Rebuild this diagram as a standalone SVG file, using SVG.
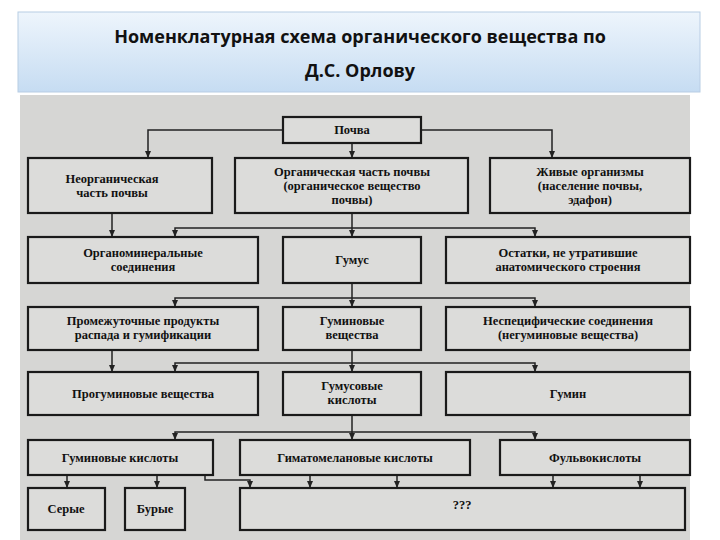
<svg xmlns="http://www.w3.org/2000/svg" width="720" height="540" viewBox="0 0 720 540">
<defs>
<linearGradient id="hg" x1="0" y1="0" x2="0" y2="1"><stop offset="0" stop-color="#eef5fc"/><stop offset="1" stop-color="#c6dcf2"/></linearGradient>
<marker id="ar" markerWidth="8" markerHeight="8" refX="7" refY="4" orient="auto" markerUnits="userSpaceOnUse"><path d="M0,1 L7,4 L0,7 Z" fill="#222"/></marker>
</defs>
<style>
.b{fill:#dcdcda;stroke:#1a1a1a;stroke-width:2.2}
.t{font-family:'Liberation Serif','DejaVu Serif',serif;font-size:12.5px;font-weight:bold;fill:#111;text-anchor:middle}
.c{fill:none;stroke:#222;stroke-width:1.5}
.a{marker-end:url(#ar)}
.h{font-family:'Open Sans','Liberation Sans',sans-serif;font-size:18px;font-weight:bold;fill:#111;text-anchor:middle}
</style>
<rect width="720" height="540" fill="#fff"/>
<rect x="18" y="12" width="682" height="80" fill="url(#hg)" stroke="#b8cde4"/>
<text class="h" x="360" y="43">Номенклатурная схема органического вещества по</text>
<text class="h" x="360" y="77">Д.С. Орлову</text>
<rect x="20" y="95" width="670" height="445" fill="#d6d6d4"/>
<g id="connectors">
<path class="c a" d="M283,130 H148 V158"/>
<path class="c a" d="M421,130 H552 V158"/>
<path class="c a" d="M352,143 V158"/>
<path class="c a" d="M112,213 V237"/>
<path class="c a" d="M352,213 V237"/>
<path class="c a" d="M352,228 H175 V237"/>
<path class="c a" d="M352,228 H535 V237"/>
<path class="c a" d="M352,283 V307"/>
<path class="c a" d="M352,298 H175 V307"/>
<path class="c a" d="M352,298 H535 V307"/>
<path class="c a" d="M112,350 V372"/>
<path class="c a" d="M352,350 V372"/>
<path class="c a" d="M352,363 H175 V372"/>
<path class="c a" d="M352,363 H535 V372"/>
<path class="c a" d="M352,415 V440"/>
<path class="c a" d="M352,432 H175 V440"/>
<path class="c a" d="M352,432 H535 V440"/>
<path class="c a" d="M67,475 V488"/>
<path class="c a" d="M157,475 V488"/>
<path class="c a" d="M205,475 V480 H250 V488"/>
<path class="c a" d="M310,475 V488"/>
<path class="c a" d="M397,475 V488"/>
<path class="c a" d="M553,475 V488"/>
<path class="c a" d="M640,475 V488"/>
</g>
<g id="n1"><rect class="b" x="283" y="117" width="138" height="26"/><text class="t" x="352" y="134">Почва</text></g>
<g id="n2"><rect class="b" x="28" y="158" width="184" height="55"/><text class="t" x="112" y="183">Неорганическая</text><text class="t" x="112" y="197">часть почвы</text></g>
<g id="n3"><rect class="b" x="235" y="158" width="233" height="55"/><text class="t" x="352" y="176">Органическая часть почвы</text><text class="t" x="352" y="190">(органическое вещество</text><text class="t" x="352" y="204">почвы)</text></g>
<g id="n4"><rect class="b" x="490" y="158" width="200" height="55"/><text class="t" x="590" y="176">Живые организмы</text><text class="t" x="590" y="190">(население почвы,</text><text class="t" x="590" y="204">эдафон)</text></g>
<g id="n5"><rect class="b" x="28" y="237" width="230" height="46"/><text class="t" x="143" y="257">Органоминеральные</text><text class="t" x="143" y="271">соединения</text></g>
<g id="n6"><rect class="b" x="283" y="237" width="138" height="46"/><text class="t" x="352" y="264">Гумус</text></g>
<g id="n7"><rect class="b" x="446" y="237" width="244" height="46"/><text class="t" x="568" y="257">Остатки, не утратившие</text><text class="t" x="568" y="271">анатомического строения</text></g>
<g id="n8"><rect class="b" x="28" y="307" width="230" height="43"/><text class="t" x="143" y="325">Промежуточные продукты</text><text class="t" x="143" y="339">распада и гумификации</text></g>
<g id="n9"><rect class="b" x="283" y="307" width="138" height="43"/><text class="t" x="352" y="325">Гуминовые</text><text class="t" x="352" y="339">вещества</text></g>
<g id="n10"><rect class="b" x="446" y="307" width="244" height="43"/><text class="t" x="568" y="325">Неспецифические соединения</text><text class="t" x="568" y="339">(негуминовые вещества)</text></g>
<g id="n11"><rect class="b" x="28" y="372" width="230" height="43"/><text class="t" x="143" y="398">Прогуминовые вещества</text></g>
<g id="n12"><rect class="b" x="283" y="372" width="138" height="43"/><text class="t" x="352" y="390">Гумусовые</text><text class="t" x="352" y="404">кислоты</text></g>
<g id="n13"><rect class="b" x="446" y="372" width="244" height="43"/><text class="t" x="568" y="398">Гумин</text></g>
<g id="n14"><rect class="b" x="28" y="440" width="185" height="35"/><text class="t" x="120" y="462">Гуминовые кислоты</text></g>
<g id="n15"><rect class="b" x="240" y="440" width="230" height="35"/><text class="t" x="355" y="462">Гиматомелановые кислоты</text></g>
<g id="n16"><rect class="b" x="500" y="440" width="190" height="35"/><text class="t" x="595" y="462">Фульвокислоты</text></g>
<g id="n17"><rect class="b" x="28" y="488" width="77" height="42"/><text class="t" x="66" y="513">Серые</text></g>
<g id="n18"><rect class="b" x="125" y="488" width="60" height="42"/><text class="t" x="155" y="513">Бурые</text></g>
<g id="n19"><rect class="b" x="240" y="488" width="445" height="42"/><text class="t" x="462" y="509">???</text></g>
</svg>
